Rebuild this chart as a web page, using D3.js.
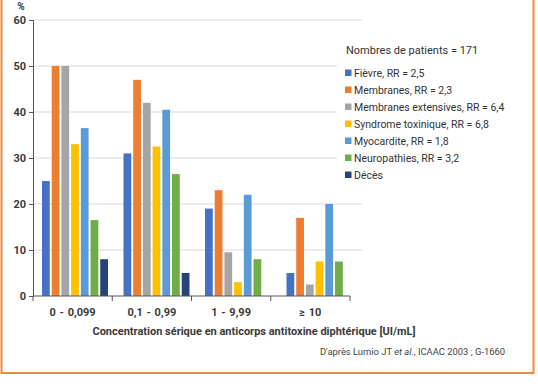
<!DOCTYPE html>
<html>
<head>
<meta charset="utf-8">
<script src="https://cdn.jsdelivr.net/npm/d3@7"></script>
<style>
  html, body { margin: 0; padding: 0; background: #fff; }
  svg { display: block; font-family: Roboto, "Open Sans", sans-serif; }
</style>
</head>
<body>
<div id="chart"></div>
<script>
const categories = ["0 - 0,099", "0,1 - 0,99", "1 - 9,99", "\u2265 10"];
const seriesNames = [
  "Fièvre, RR = 2,5",
  "Membranes, RR = 2,3",
  "Membranes extensives, RR = 6,4",
  "Syndrome toxinique, RR = 6,8",
  "Myocardite, RR = 1,8",
  "Neuropathies, RR = 3,2",
  "Décès"
];
const seriesColors = ["#4472c4", "#ed7d31", "#a5a5a5", "#ffc000", "#5b9bd5", "#70ad47", "#264478"];
// one array per series, values per category (%), null = no bar
const fievre = [25, 31, 19, 5];
const membranes = [50, 47, 23, 17];
const membranesExt = [50, 42, 9.5, 2.5];
const syndrome = [33, 32.5, 3, 7.5];
const myocardite = [36.5, 40.5, 22, 20];
const neuropathies = [16.5, 26.5, 8, 7.5];
const deces = [8, 5, null, null];
const yTicks = [0, 10, 20, 30, 40, 50, 60];

const series = [fievre, membranes, membranesExt, syndrome, myocardite, neuropathies, deces];

const width = 538, height = 384;
const svg = d3.select("#chart").append("svg")
  .attr("width", width)
  .attr("height", height);

const y = d3.scaleLinear().domain([0, 60]).range([296, 20]);
const x0 = d3.scaleBand().domain(categories).range([33, 350]);
const xBars = d3.scaleBand().domain(categories).range([33, 359]);
const x1 = d3.scaleBand().domain(d3.range(seriesNames.length)).range([9, 75]).paddingInner(0.2);

// gridlines
svg.append("g")
  .selectAll("line")
  .data(yTicks.filter(d => d > 0))
  .join("line")
  .attr("x1", 33).attr("x2", 362)
  .attr("y1", d => y(d)).attr("y2", d => y(d))
  .attr("stroke", "#d9d9d9")
  .attr("stroke-width", 1);

// legend background hides gridlines behind it
svg.append("rect")
  .attr("x", 337).attr("y", 34)
  .attr("width", 193).attr("height", 152)
  .attr("fill", "#fff");

// bars
const rows = [];
categories.forEach((c, i) => {
  series.forEach((s, j) => {
    if (s[i] != null) rows.push({ cat: c, k: j, v: s[i] });
  });
});
svg.append("g")
  .selectAll("rect")
  .data(rows)
  .join("rect")
  .attr("x", d => xBars(d.cat) + x1(d.k))
  .attr("y", d => y(d.v))
  .attr("width", x1.bandwidth())
  .attr("height", d => y(0) - y(d.v))
  .attr("fill", d => seriesColors[d.k]);

// y axis
const yAxis = svg.append("g")
  .attr("transform", "translate(33,0)")
  .call(d3.axisLeft(y).tickValues(yTicks).tickSize(4).tickPadding(3));
yAxis.select(".domain").attr("stroke", "#555");
yAxis.selectAll(".tick line").attr("stroke", "#555");
yAxis.selectAll(".tick text")
  .attr("font-size", "11px")
  .attr("font-weight", "bold")
  .attr("fill", "#3a3a3a")
  .attr("font-family", "Roboto, sans-serif");

svg.append("text")
  .attr("x", 21).attr("y", 10)
  .attr("text-anchor", "middle")
  .attr("font-size", "10px")
  .attr("font-weight", "bold")
  .attr("fill", "#3a3a3a")
  .text("%");

// x axis: ticks at category boundaries
svg.append("line")
  .attr("x1", 33).attr("x2", 350)
  .attr("y1", y(0)).attr("y2", y(0))
  .attr("stroke", "#555");
svg.append("g")
  .selectAll("line")
  .data(categories.map(c => x0(c)).concat([x0(categories[categories.length - 1]) + x0.bandwidth()]))
  .join("line")
  .attr("x1", d => d).attr("x2", d => d)
  .attr("y1", y(0)).attr("y2", y(0) + 5)
  .attr("stroke", "#555");

svg.append("g")
  .selectAll("text")
  .data(categories)
  .join("text")
  .attr("x", d => x0(d) + x0.bandwidth() / 2)
  .attr("y", 316)
  .attr("text-anchor", "middle")
  .attr("font-size", "11px")
  .attr("font-weight", "bold")
  .attr("fill", "#3a3a3a")
  .style("word-spacing", "1px")
  .text(d => d);

svg.append("text")
  .attr("x", 254).attr("y", 335)
  .attr("text-anchor", "middle")
  .attr("font-size", "11px")
  .attr("font-weight", "bold")
  .attr("fill", "#3a3a3a")
  .text("Concentration sérique en anticorps antitoxine diphtérique [UI/mL]");

const src = svg.append("text")
  .attr("x", 505).attr("y", 355)
  .attr("text-anchor", "end")
  .attr("font-size", "9.4px")
  .attr("fill", "#444");
src.append("tspan").text("D'après Lumio JT ");
src.append("tspan").attr("font-style", "italic").text("et al.");
src.append("tspan").text(", ICAAC 2003 ; G-1660");

// legend
svg.append("text")
  .attr("x", 346).attr("y", 54)
  .attr("font-size", "11px")
  .attr("fill", "#333")
  .text("Nombres de patients = 171");

const leg = svg.append("g")
  .selectAll("g")
  .data(seriesNames)
  .join("g")
  .attr("transform", (d, i) => `translate(345,${73 + i * 17})`);
leg.append("rect")
  .attr("x", 0).attr("y", -3.5)
  .attr("width", 6.5).attr("height", 6.5)
  .attr("fill", (d, i) => seriesColors[i]);
leg.append("text")
  .attr("x", 9).attr("y", 4)
  .attr("font-size", "10.5px")
  .attr("fill", "#333")
  .text(d => d);

// orange frame (left, bottom, right)
svg.append("path")
  .attr("d", "M1.5,0 V373 H533.5 V0")
  .attr("fill", "none")
  .attr("stroke", "#f0873a")
  .attr("stroke-width", 2);
</script>
</body>
</html>
